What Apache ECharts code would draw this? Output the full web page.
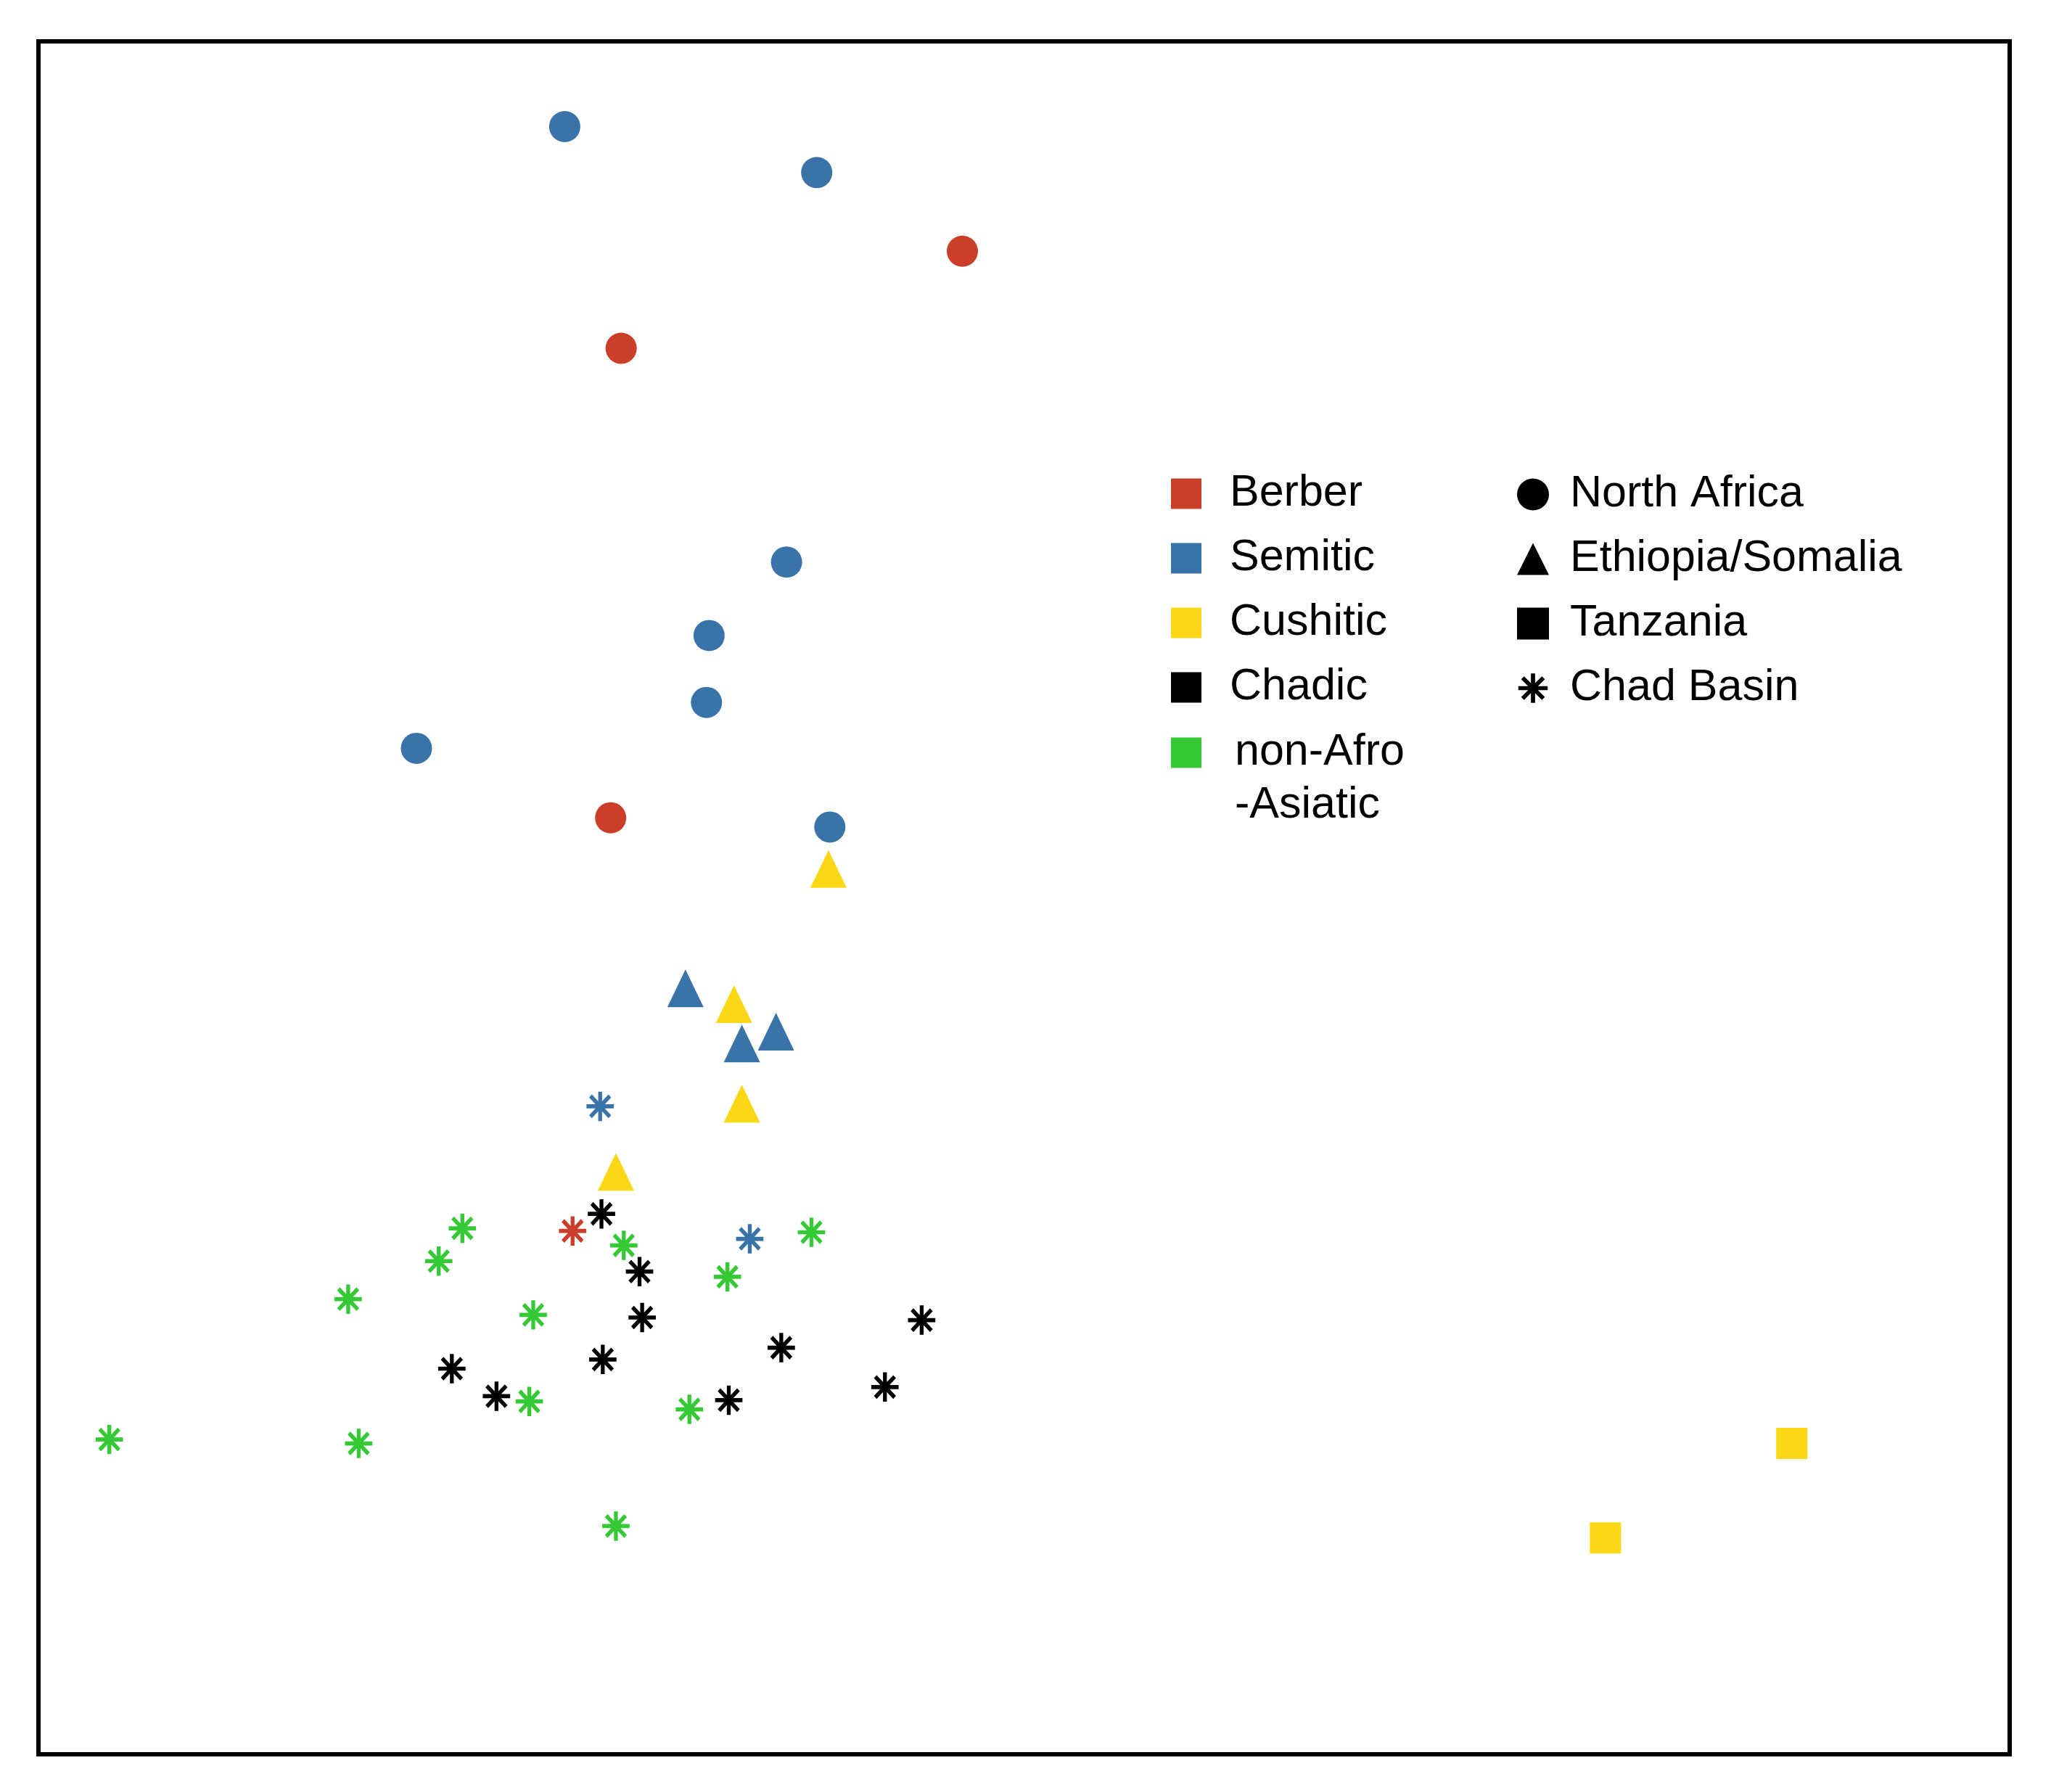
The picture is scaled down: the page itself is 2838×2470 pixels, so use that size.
<!DOCTYPE html>
<html>
<head>
<meta charset="utf-8">
<script src="https://cdn.jsdelivr.net/npm/echarts@6/dist/echarts.min.js"></script>
<style>
html, body { margin: 0; padding: 0; background: #fff; }
#main { width: 2838px; height: 2470px; }
</style>
</head>
<body>
<div id="main"></div>
<script>
// point coordinates (arbitrary plot units)
var semiticNorthAfrica = [[401,1241],[593,1206],[570,909],[511,853],[509,802],[288,767],[603,707]];
var berberNorthAfrica = [[704,1146],[444,1072],[436,714]];
var cushiticEthiopia = [[602,675],[530,572],[536,496],[440,444]];
var semiticEthiopia = [[493,584],[536,542],[562,551]];
var cushiticTanzania = [[1336,237],[1194,165]];
var semiticChad = [[428,494],[542,393]];
var berberChad = [[407,399]];
var chadicChad = [[429,412],[458,368],[460,333],[430,301],[315,294],[349,273],[526,270],[566,310],[645,280],[673,331]];
var nonAfroChad = [[323,401],[305,376],[446,388],[525,364],[589,398],[236,347],[377,335],[374,269],[496,263],[54,240],[244,237],[440,174]];

var groupNames = ['Berber', 'Semitic', 'Cushitic', 'Chadic'];
var otherGroup = 'non-Afro-Asiatic';
var regionNames = ['North Africa', 'Ethiopia/Somalia', 'Tanzania', 'Chad Basin'];

var colors = {
    'Berber': '#CB3E2A',
    'Semitic': '#3A73A7',
    'Cushitic': '#FBD816',
    'Chadic': '#000000',
    'non-Afro-Asiatic': '#35C935'
};

// eight-armed star used for Chad Basin
var asterisk = 'path://M0,0M100,100' +
    'M43.5,4L56.5,4L56.5,96L43.5,96Z' +
    'M4,43.5L96,43.5L96,56.5L4,56.5Z' +
    'M22.07,12.87L87.13,77.93L77.93,87.13L12.87,22.07Z' +
    'M12.87,77.93L77.93,12.87L87.13,22.07L22.07,87.13Z';

var regionIcons = {
    'North Africa': 'circle',
    'Ethiopia/Somalia': 'triangle',
    'Tanzania': 'rect',
    'Chad Basin': asterisk
};

function scatter(name, data, symbol, size)
{
    return {
        name: name,
        type: 'scatter',
        data: data,
        symbol: symbol,
        symbolSize: size,
        itemStyle: { color: colors[name], opacity: 1 },
        silent: true
    };
}

var starSize = [41, 44];

var series = [
    scatter('Semitic', semiticNorthAfrica, 'circle', 43),
    scatter('Berber', berberNorthAfrica, 'circle', 43),
    scatter('Cushitic', cushiticEthiopia, 'triangle', [50, 52]),
    scatter('Semitic', semiticEthiopia, 'triangle', [50, 52]),
    scatter('Cushitic', cushiticTanzania, 'rect', 43),
    scatter('Chadic', chadicChad, asterisk, starSize),
    scatter('non-Afro-Asiatic', nonAfroChad, asterisk, starSize),
    scatter('Semitic', semiticChad, asterisk, starSize),
    scatter('Berber', berberChad, asterisk, starSize)
];

// empty series so the shape legend has something to point at
regionNames.forEach(function (r) {
    series.push({
        name: r,
        type: 'scatter',
        data: [],
        symbol: regionIcons[r],
        itemStyle: { color: '#000', opacity: 1 }
    });
});

var legendText = {
    fontFamily: 'Liberation Sans',
    fontSize: 61,
    color: '#000'
};

var option = {
    animation: false,
    backgroundColor: '#fff',
    grid: {
        left: 53,
        top: 57,
        right: 68,
        bottom: 52,
        show: true,
        borderColor: '#000',
        borderWidth: 6,
        backgroundColor: 'transparent'
    },
    xAxis: {
        type: 'value',
        min: 0,
        max: 1502,
        show: false
    },
    yAxis: {
        type: 'value',
        min: 0,
        max: 1306,
        show: false
    },
    legend: [
        {
            orient: 'vertical',
            left: 1614,
            top: 650,
            padding: 0,
            itemWidth: 42,
            itemHeight: 42,
            itemGap: 28,
            icon: 'rect',
            selectedMode: false,
            data: groupNames,
            textStyle: Object.assign({ padding: [0, 0, 0, 34] }, legendText)
        },
        {
            orient: 'vertical',
            left: 1614,
            top: 928,
            padding: 0,
            itemWidth: 42,
            itemHeight: 42,
            icon: 'rect',
            selectedMode: false,
            data: [otherGroup],
            // empty first line keeps "non-Afro" level with the swatch
            formatter: function () { return '\nnon-Afro\n-Asiatic'; },
            textStyle: Object.assign({ lineHeight: 73, padding: [0, 0, 0, 41] }, legendText)
        },
        {
            orient: 'vertical',
            left: 2091,
            top: 651,
            padding: 0,
            itemWidth: 44,
            itemHeight: 44,
            itemGap: 28,
            selectedMode: false,
            data: regionNames.map(function (r) {
                return { name: r, icon: regionIcons[r], itemStyle: { color: '#000' } };
            }),
            textStyle: Object.assign({ padding: [0, 0, 0, 24] }, legendText)
        }
    ],
    series: series
};

var chart = echarts.init(document.getElementById('main'));
chart.setOption(option);

window.addEventListener('resize', function () {
    chart.resize();
});
</script>
</body>
</html>
